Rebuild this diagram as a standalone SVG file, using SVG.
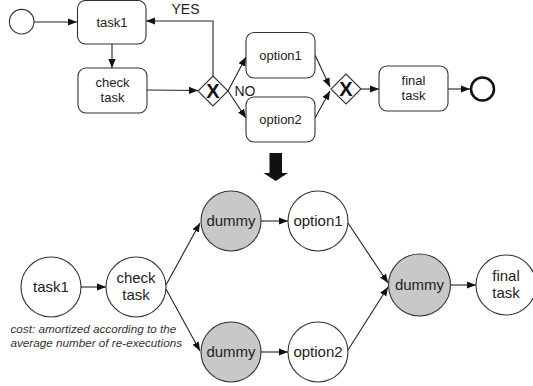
<svg xmlns="http://www.w3.org/2000/svg" width="533" height="386" viewBox="0 0 533 386">
<defs>
<marker id="ah" viewBox="0 0 10 10" refX="10" refY="5" markerWidth="9" markerHeight="9" markerUnits="userSpaceOnUse" orient="auto">
<path d="M0,1 L10,5 L0,9 Z" fill="#111"/>
</marker>
<style>
.e{fill:none;stroke:#222;stroke-width:1.1;marker-end:url(#ah)}
.t{fill:#fff;stroke:#333;stroke-width:1.1}
.g{fill:#fff;stroke:#333;stroke-width:1.1}
.c{fill:#fff;stroke:#333;stroke-width:1.1}
.d{fill:#c8c8c8;stroke:#333;stroke-width:1.1}
.l{font-family:"Liberation Sans",Arial,sans-serif;font-size:13px;fill:#222;text-anchor:middle}
.b{font-family:"Liberation Sans",Arial,sans-serif;font-size:15px;fill:#222;text-anchor:middle}
.x{font-family:"Liberation Sans",Arial,sans-serif;font-size:20px;font-weight:bold;fill:#111;text-anchor:middle}
.i{font-family:"Liberation Sans",Arial,sans-serif;font-size:11.7px;font-style:italic;fill:#333}
</style>
</defs>

<g id="connectors">
<path class="e" d="M34,22 L77,22"/>
<path class="e" d="M112,44 L112,68"/>
<path class="e" d="M147,90 L198,90.5"/>
<path class="e" d="M213,76 L213,21 L146,21"/>
<path class="e" d="M228,91 L246,57"/>
<path class="e" d="M228,91 L246,118"/>
<path class="e" d="M315,55 L330,87"/>
<path class="e" d="M315,118 L330,91"/>
<path class="e" d="M361,89 L379,89"/>
<path class="e" d="M448,89 L470,89"/>

<path class="e" d="M166,285 L200,223"/>
<path class="e" d="M81,287 L106,287"/>
<path class="e" d="M166,289 L200,351"/>
<path class="e" d="M261,221 L288,221"/>
<path class="e" d="M261,352 L288,352"/>
<path class="e" d="M348,223 L388,283"/>
<path class="e" d="M348,350 L388,287"/>
<path class="e" d="M450,285 L476,285"/>
</g>

<g id="start"><circle class="c" cx="21.7" cy="21.7" r="12.3"/></g>
<g id="top-task1"><rect class="t" x="77.5" y="0.5" width="68.5" height="43.5" rx="8"/><text class="l" x="112" y="27">task1</text></g>
<g id="top-check"><rect class="t" x="78" y="68" width="69" height="45" rx="8"/><text class="l" x="112.5" y="87">check</text><text class="l" x="112.5" y="102">task</text></g>
<g id="gw1"><path class="g" d="M213,76 L228,91 L213,106 L198,91 Z"/><text class="x" x="213" y="98">X</text></g>
<g id="label-yes"><text class="l" x="185.5" y="14" style="font-size:14px">YES</text></g>
<g id="label-no"><text class="l" x="245" y="96" style="font-size:14px">NO</text></g>
<g id="top-option1"><rect class="t" x="246" y="32.5" width="69" height="45.5" rx="8"/><text class="l" x="280.5" y="60">option1</text></g>
<g id="top-option2"><rect class="t" x="246" y="97" width="69" height="45" rx="8"/><text class="l" x="280.5" y="124">option2</text></g>
<g id="gw2"><path class="g" d="M346,74 L361,89 L346,104 L331,89 Z"/><text class="x" x="346" y="96">X</text></g>
<g id="top-final"><rect class="t" x="379" y="66" width="69" height="45" rx="8"/><text class="l" x="413.5" y="85">final</text><text class="l" x="413.5" y="100">task</text></g>
<g id="end"><circle cx="482.5" cy="89" r="11.5" fill="#fff" stroke="#111" stroke-width="2.5"/></g>

<g id="transform-arrow"><path d="M269.5,153 L282,153 L282,173 L288,173 L275.75,181 L263.5,173 L269.5,173 Z" fill="#111"/></g>

<g id="b-task1"><circle class="c" cx="51" cy="287" r="30"/><text class="b" x="51" y="292">task1</text></g>
<g id="b-check"><circle class="c" cx="136" cy="287" r="30"/><text class="b" x="136" y="283">check</text><text class="b" x="136" y="300">task</text></g>
<g id="b-dummy1"><circle class="d" cx="231" cy="221" r="30"/><text class="b" x="231" y="226">dummy</text></g>
<g id="b-dummy2"><circle class="d" cx="231" cy="352" r="30"/><text class="b" x="231" y="357">dummy</text></g>
<g id="b-option1"><circle class="c" cx="318" cy="221" r="30"/><text class="b" x="318" y="226">option1</text></g>
<g id="b-option2"><circle class="c" cx="318" cy="352" r="30"/><text class="b" x="318" y="357">option2</text></g>
<g id="b-dummy3"><circle class="d" cx="419.5" cy="285" r="31"/><text class="b" x="419.5" y="290">dummy</text></g>
<g id="b-final"><circle class="c" cx="506" cy="285" r="30"/><text class="b" x="506" y="281">final</text><text class="b" x="506" y="298">task</text></g>
<g id="note"><text class="i" x="10.5" y="333">cost: amortized according to the</text><text class="i" x="10.5" y="347">average number of re-executions</text></g>
</svg>
